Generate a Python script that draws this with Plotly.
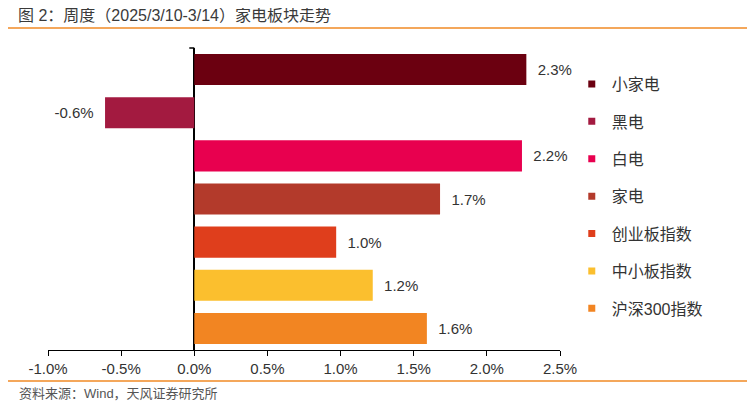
import plotly.graph_objects as go

# weekly change by sector (%)
categories = ["小家电", "黑电", "白电", "家电", "创业板指数", "中小板指数", "沪深300指数"]
changes = [2.27, -0.61, 2.24, 1.68, 0.97, 1.22, 1.59]
colors = ["#6B0010", "#A31A40", "#E8004F", "#B33A2B", "#DF3E1C", "#FBBF2E", "#F28522"]
tick_vals = [-1.0, -0.5, 0.0, 0.5, 1.0, 1.5, 2.0, 2.5]
tick_text = ["-1.0%", "-0.5%", "0.0%", "0.5%", "1.0%", "1.5%", "2.0%", "2.5%"]

FONT = "Liberation Sans, Arial, Noto Sans CJK SC"
ORANGE = "#F08A24"
TXT = "#333333"

fig = go.Figure()

for name, val, col in zip(categories, changes, colors):
    # bar itself, label pushed a little away from the bar end
    tmpl = "  %{x:.1f}%" if val >= 0 else "%{x:.1f}%  "
    fig.add_trace(go.Bar(
        x=[val], y=[name], orientation="h",
        marker=dict(color=col, line=dict(width=0)),
        texttemplate=tmpl, textposition="outside",
        textfont=dict(size=15, color=TXT, family=FONT),
        cliponaxis=False, showlegend=False, legendgroup=name,
    ))
    # small square legend entry
    fig.add_trace(go.Scatter(
        x=[None], y=[None], mode="markers", name=name, legendgroup=name,
        marker=dict(symbol="square", size=7, color=col),
    ))

# the page body has an 8px margin, so everything is placed 8px up/left
fig.update_layout(
    width=755, height=407,
    margin=dict(l=40, r=203, t=40, b=65),
    paper_bgcolor="white", plot_bgcolor="white",
    font=dict(family=FONT, size=15, color=TXT),
    bargap=0.28,
    legend=dict(
        x=1.023, y=0.937, xanchor="left", yanchor="top",
        traceorder="grouped", tracegroupgap=13.6,
        font=dict(size=16, color=TXT, family=FONT),
        bgcolor="rgba(0,0,0,0)",
    ),
    showlegend=True,
)

fig.update_xaxes(
    range=[-1.0, 2.5], tickvals=tick_vals, ticktext=tick_text,
    showgrid=False, showline=True, linecolor="#000000", linewidth=1,
    ticks="outside", ticklen=5, tickcolor="#000000",
    zeroline=True, zerolinecolor="#000000", zerolinewidth=1.5,
    tickfont=dict(size=15, color=TXT),
)
fig.update_yaxes(
    categoryorder="array", categoryarray=categories, autorange="reversed",
    showticklabels=False, showgrid=False, showline=False, zeroline=False,
)

# orange rules under the title and above the source note
fig.add_shape(type="line", xref="paper", yref="paper",
              x0=-0.082, x1=1.4, y0=1.0662, y1=1.0662,
              line=dict(color=ORANGE, width=1.5))
fig.add_shape(type="line", xref="paper", yref="paper",
              x0=-0.082, x1=1.4, y0=-0.1026, y1=-0.1026,
              line=dict(color=ORANGE, width=1.5))
# little tick at the top of the zero line
fig.add_shape(type="line", xref="x", xsizemode="pixel", xanchor=0,
              x0=-5, x1=0, yref="paper", y0=1, y1=1,
              line=dict(color="#000000", width=1.5))

# title and source note
fig.add_annotation(
    text="图 2：周度（2025/3/10-3/14）家电板块走势",
    xref="paper", yref="paper", x=-0.0605, y=1.1060,
    xanchor="left", yanchor="middle", showarrow=False, borderpad=0,
    font=dict(size=16, color="#3a3a3a", family=FONT),
)
fig.add_annotation(
    text="资料来源：Wind，天风证券研究所",
    xref="paper", yref="paper", x=-0.0605, y=-0.1424,
    xanchor="left", yanchor="middle", showarrow=False,
    font=dict(size=13, color="#555555", family=FONT),
)

fig.write_html("out.html")
